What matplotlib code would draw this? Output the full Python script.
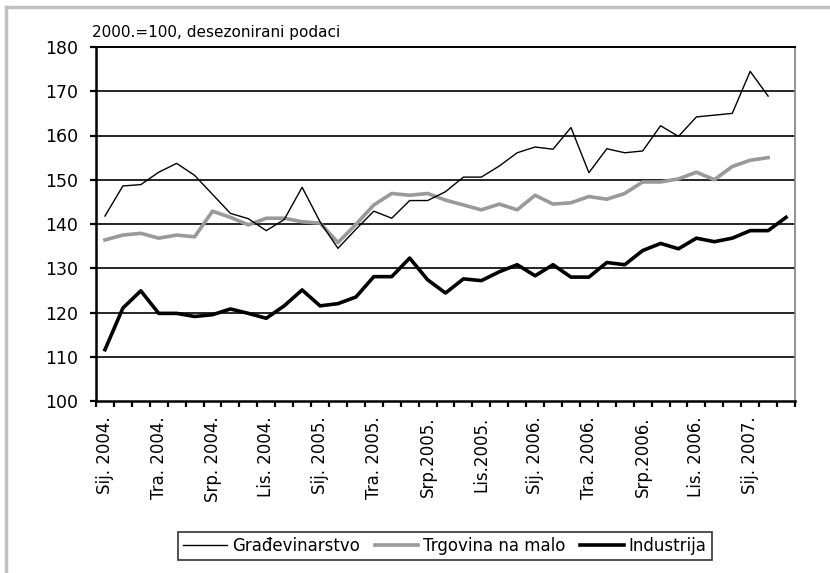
import numpy as np
import matplotlib.pyplot as plt
from matplotlib.lines import Line2D

# monthly index, Sij. 2004 .. Ožu. 2007
gradevinarstvo = [141.8, 148.6, 148.9, 151.7, 153.7, 151.0, 146.7, 142.4, 141.2, 138.5,
                  141.0, 148.3, 140.5, 134.5, 138.8, 142.9, 141.3, 145.3, 145.3, 147.3,
                  150.6, 150.6, 153.1, 156.1, 157.4, 156.9, 161.8, 151.6, 157.0, 156.1,
                  156.5, 162.2, 159.8, 164.2, 164.6, 165.0, 174.5, 168.9]
trgovina = [136.4, 137.5, 137.9, 136.8, 137.5, 137.1, 142.9, 141.5, 139.8, 141.3,
            141.3, 140.5, 140.2, 135.8, 139.9, 144.3, 146.9, 146.5, 146.9, 145.4,
            144.3, 143.2, 144.5, 143.2, 146.5, 144.5, 144.8, 146.2, 145.6, 146.9,
            149.5, 149.5, 150.2, 151.7, 150.0, 153.0, 154.4, 155.0]
industrija = [111.6, 121.0, 124.9, 119.8, 119.8, 119.1, 119.5, 120.8, 119.8, 118.7,
              121.5, 125.1, 121.5, 122.0, 123.5, 128.1, 128.1, 132.3, 127.4, 124.4,
              127.6, 127.2, 129.2, 130.8, 128.3, 130.8, 128.0, 128.0, 131.3, 130.8,
              134.0, 135.6, 134.4, 136.8, 136.0, 136.8, 138.5, 138.5, 141.5]

tick_labels = ['Sij. 2004.', 'Tra. 2004.', 'Srp. 2004.', 'Lis. 2004.',
               'Sij. 2005.', 'Tra. 2005.', 'Srp.2005.', 'Lis.2005.',
               'Sij. 2006.', 'Tra. 2006.', 'Srp.2006.', 'Lis. 2006.', 'Sij. 2007.']
n_months = 39

fig = plt.figure(figsize=(8.3, 5.73), dpi=100)
ax = fig.add_axes([96 / 830, 1 - 401 / 573, 699 / 830, 354 / 573])

for v in range(110, 180, 10):
    ax.axhline(v, color='black', lw=1.2, zorder=1)

ax.plot(np.arange(len(gradevinarstvo)), gradevinarstvo, color='black', lw=1.0,
        label='Građevinarstvo', zorder=3)
ax.plot(np.arange(len(trgovina)), trgovina, color='#999999', lw=2.6,
        label='Trgovina na malo', zorder=2)
ax.plot(np.arange(len(industrija)), industrija, color='black', lw=2.6,
        label='Industrija', zorder=4)

ax.set_xlim(-0.5, n_months - 0.5)
ax.set_ylim(100, 180)
ax.set_yticks(range(100, 181, 10))
ax.set_xticks(np.arange(0, 37, 3))
ax.set_xticklabels(tick_labels, rotation=90, fontsize=12)
ax.set_xticks(np.arange(-0.5, n_months, 1), minor=True)
ax.tick_params(axis='x', which='major', length=0, pad=11)
ax.tick_params(axis='x', which='minor', length=4, width=1.6, direction='out')
ax.tick_params(axis='y', length=4, width=1.6, pad=9, labelsize=12.5)

ax.spines['left'].set_linewidth(1.8)
ax.spines['bottom'].set_linewidth(1.8)
ax.spines['top'].set_linewidth(1.4)
ax.spines['right'].set_color('#808080')
ax.spines['right'].set_linewidth(1.2)

fig.text(92 / 830, 1 - 33 / 573, '2000.=100, desezonirani podaci', fontsize=11, va='center')

leg = fig.legend(loc='center', bbox_to_anchor=(445 / 830, 1 - 546 / 573), ncol=3,
                 fontsize=12, frameon=True, fancybox=False, edgecolor='black',
                 handlelength=2.6, handletextpad=0.3, columnspacing=0.9,
                 borderpad=0.3)
leg.get_frame().set_linewidth(1.2)

# grey frame of the original figure
fig.add_artist(Line2D([6 / 830, 6 / 830], [0, 1 - 7 / 573], color='#c0c0c0', lw=2.5))
fig.add_artist(Line2D([6 / 830, 1], [1 - 7 / 573, 1 - 7 / 573], color='#c0c0c0', lw=2.5))

fig.savefig('out.png', dpi=100)
